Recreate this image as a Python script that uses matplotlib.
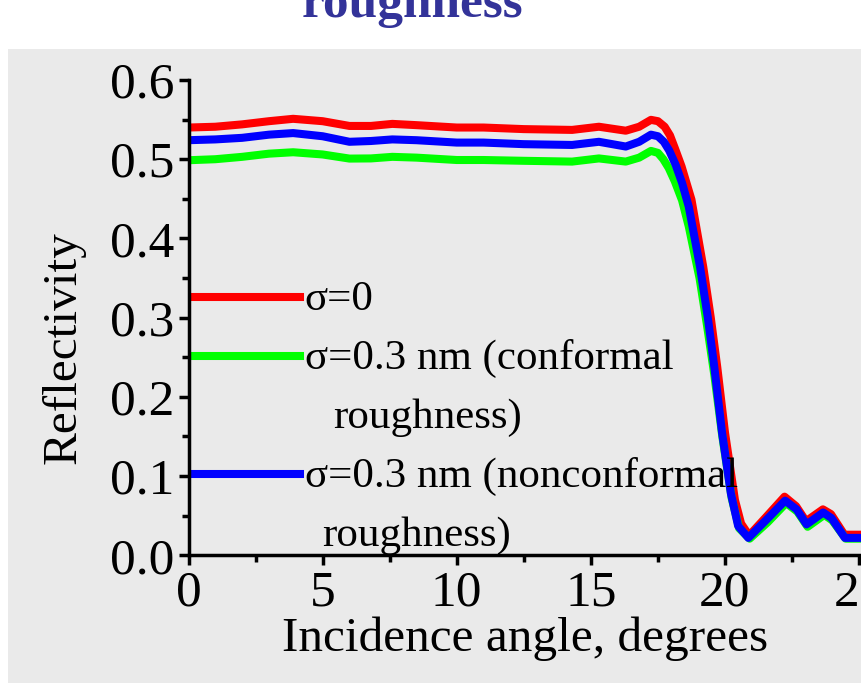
import matplotlib
matplotlib.use('Agg')
from matplotlib import pyplot as plt
from matplotlib.patches import Rectangle
from matplotlib.lines import Line2D
from matplotlib.ticker import MultipleLocator, FormatStrFormatter

plt.rcParams['font.family'] = ['Liberation Serif', 'DejaVu Serif']

# reflectivity vs incidence angle for three roughness cases
angle_flat = [0, 1, 2, 3, 3.9, 5, 6, 6.8, 7.6, 8.5, 10, 11, 12.5, 14.3, 15.3, 16.3, 16.8, 17.24, 17.5]

r_ideal_angle = angle_flat + [17.75, 17.95, 18.13, 18.38, 18.75, 19.19, 19.47, 19.71, 20.0, 20.37, 20.6, 20.9,
                              21.55, 22.22, 22.65, 23.02, 23.65, 23.95, 24.45, 25.07]
r_ideal = [0.540, 0.541, 0.544, 0.548, 0.551, 0.548, 0.542, 0.542, 0.5446, 0.543, 0.540, 0.540, 0.538,
           0.537, 0.541, 0.536, 0.541, 0.5497, 0.548,
           0.541, 0.530, 0.514, 0.491, 0.449, 0.364, 0.300, 0.238, 0.155, 0.070, 0.040, 0.025,
           0.049, 0.074, 0.062, 0.043, 0.058, 0.052, 0.026, 0.026]

conf_angle = angle_flat + [17.7, 17.9, 18.13, 18.4, 18.65, 19.05, 19.33, 19.6, 19.9, 20.25, 20.53, 20.92,
                           21.6, 22.28, 22.7, 23.08, 23.7, 24.0, 24.5, 25.07]
r_conformal = [0.4987, 0.500, 0.503, 0.507, 0.5088, 0.506, 0.5008, 0.501, 0.503, 0.502, 0.499, 0.499,
               0.498, 0.497, 0.501, 0.497, 0.502, 0.5105, 0.508,
               0.500, 0.489, 0.472, 0.448, 0.415, 0.350, 0.290, 0.228, 0.150, 0.072, 0.034, 0.021,
               0.042, 0.066, 0.055, 0.036, 0.051, 0.044, 0.021, 0.021]

nonconf_angle = angle_flat + [17.72, 17.92, 18.16, 18.4, 18.65, 19.07, 19.36, 19.6, 19.89, 20.22, 20.49, 20.87,
                              21.55, 22.24, 22.67, 23.04, 23.66, 23.97, 24.47, 25.07]
r_nonconformal = [0.524, 0.525, 0.527, 0.531, 0.533, 0.529, 0.522, 0.523, 0.525, 0.524, 0.521, 0.521,
                  0.519, 0.518, 0.522, 0.516, 0.522, 0.531, 0.529,
                  0.522, 0.511, 0.493, 0.470, 0.440, 0.364, 0.300, 0.238, 0.155, 0.078, 0.037, 0.022,
                  0.045, 0.069, 0.058, 0.039, 0.054, 0.047, 0.022, 0.022]

labels = ['σ=0', 'σ=0.3 nm (conformal', 'σ=0.3 nm (nonconformal']
colors = ['#ff0000', '#00ff00', '#0000ff']

fs = 37
fig = plt.figure(figsize=(8.61, 6.83), dpi=100)
fig.patches.append(Rectangle((8 / 861, 0), 1, (683 - 49) / 683, transform=fig.transFigure,
                             facecolor='#eaeaea', edgecolor='none', zorder=-1))
fig.text(412 / 861, 1 - 17 / 683, 'roughness', ha='center', va='baseline',
         fontsize=fs, fontweight='bold', color='#333399')

ax = fig.add_axes([188.5 / 861, (683 - 555.3) / 683, 672.5 / 861, 475.3 / 683])
ax.patch.set_alpha(0)

lw = 5.8
ax.plot(r_ideal_angle, r_ideal, color=colors[0], lw=lw, solid_joinstyle='round')
ax.plot(conf_angle, r_conformal, color=colors[1], lw=lw, solid_joinstyle='round')
ax.plot(nonconf_angle, r_nonconformal, color=colors[2], lw=lw, solid_joinstyle='round')

ax.set_xlim(0, 25.07)
ax.set_ylim(0, 0.6)
ax.xaxis.set_major_locator(MultipleLocator(5))
ax.xaxis.set_minor_locator(MultipleLocator(2.5))
ax.yaxis.set_major_locator(MultipleLocator(0.1))
ax.yaxis.set_minor_locator(MultipleLocator(0.05))
ax.yaxis.set_major_formatter(FormatStrFormatter('%.1f'))

for side in ['top', 'right']:
    ax.spines[side].set_visible(False)
for side in ['left', 'bottom']:
    ax.spines[side].set_linewidth(2.5)
ax.tick_params(which='major', length=7.5, width=2.5, labelsize=fs, pad=3, direction='out')
ax.tick_params(which='minor', length=5, width=2.5, direction='out')

ax.set_xlabel('Incidence angle, degrees', fontsize=35.5, labelpad=0)
ax.set_ylabel('Reflectivity', fontsize=35.5)
ax.yaxis.set_label_coords((86 - 188.5) / 672.5, (555.3 - 348) / 475.3)

# hand-placed legend
leg_fs = 31
leg_y = [0.5435, 0.4194, 0.171]
for y, c, lab in zip(leg_y, colors, labels):
    ax.add_line(Line2D([0.006, 0.166], [y, y], transform=ax.transAxes, color=c, lw=lw, clip_on=False))
    ax.text(0.173, y - 0.028, lab, transform=ax.transAxes, fontsize=leg_fs, va='baseline', ha='left')
ax.text(0.215, 0.4194 - 0.028 - 0.124, 'roughness)', transform=ax.transAxes, fontsize=leg_fs, va='baseline')
ax.text(0.1985, 0.171 - 0.028 - 0.124, 'roughness)', transform=ax.transAxes, fontsize=leg_fs, va='baseline')

fig.savefig('out.png', dpi=100)
